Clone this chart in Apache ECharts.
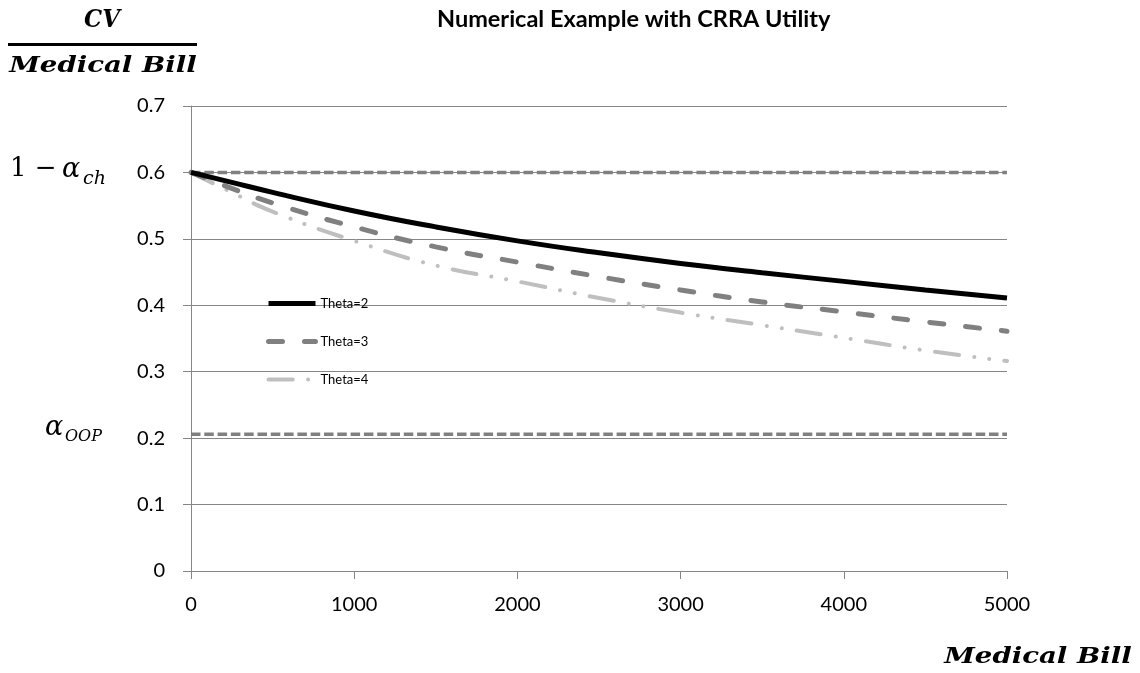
<!DOCTYPE html>
<html>
<head>
<meta charset="utf-8">
<script src="https://cdn.jsdelivr.net/npm/echarts@6/dist/echarts.min.js"></script>
<style>
  html, body { margin: 0; padding: 0; background: #fff; }
  #main { width: 1140px; height: 673px; }
</style>
</head>
<body>
<div id="main"></div>
<script>
// 横轴：医疗账单
var bills = [0, 250, 500, 1000, 1500, 2000, 2500, 3000, 3500, 4000, 4500, 5000];
// CV / Medical Bill
var theta2 = [0.600, 0.585, 0.570, 0.542, 0.518, 0.497, 0.479, 0.463, 0.449, 0.436, 0.423, 0.411];
var theta3 = [0.600, 0.576, 0.554, 0.518, 0.488, 0.465, 0.443, 0.423, 0.405, 0.390, 0.375, 0.361];
var theta4 = [0.600, 0.570, 0.541, 0.497, 0.460, 0.436, 0.411, 0.389, 0.370, 0.351, 0.332, 0.316];
var seriesNames = ['Theta=2', 'Theta=3', 'Theta=4'];
// 参考线 1-alpha_ch 和 alpha_OOP
var refUpper = 0.6;
var refLower = 0.206;
var xTicks = [0, 1000, 2000, 3000, 4000, 5000];
var yTicks = [0, 0.1, 0.2, 0.3, 0.4, 0.5, 0.6, 0.7];

function pairs(xs, ys) {
    var out = [];
    for (var i = 0; i < xs.length; i++) {
        out.push([xs[i], ys[i]]);
    }
    return out;
}

var myChart = echarts.init(document.getElementById('main'));
var axisColor = '#868686';
var mathFont = '"DejaVu Serif", serif';

var option = {
    backgroundColor: '#fff',
    animation: false,
    title: {
        text: 'Numerical Example with CRRA Utility',
        left: 432,
        top: 2,
        textStyle: {
            fontFamily: 'Lato',
            fontWeight: 'bold',
            fontSize: 23.5,
            color: '#000'
        }
    },
    grid: {
        left: 191,
        right: 133,
        top: 106,
        bottom: 102
    },
    legend: {
        orient: 'vertical',
        left: 261,
        top: 292,
        itemWidth: 47,
        itemHeight: 15,
        itemGap: 25,
        data: seriesNames,
        itemStyle: { opacity: 0 },
        lineStyle: { width: 'inherit' },
        textStyle: {
            fontFamily: 'Lato',
            fontSize: 13,
            color: '#000'
        }
    },
    xAxis: {
        type: 'value',
        min: 0,
        max: 5000,
        interval: 1000,
        axisLine: { lineStyle: { color: axisColor, width: 1 } },
        axisTick: { show: true, length: 8, lineStyle: { color: axisColor } },
        splitLine: { show: false },
        axisLabel: {
            margin: 24,
            fontFamily: 'Lato',
            fontSize: 20,
            color: '#000',
            formatter: function (v) {
                return String(v);
            }
        }
    },
    yAxis: {
        type: 'value',
        min: 0,
        max: 0.7,
        interval: 0.1,
        axisLine: { show: true, lineStyle: { color: axisColor, width: 1 } },
        axisTick: { show: true, length: 8, lineStyle: { color: axisColor } },
        splitLine: { show: true, lineStyle: { color: axisColor, width: 1 } },
        axisLabel: {
            margin: 26,
            fontFamily: 'Lato',
            fontSize: 20,
            color: '#000',
            formatter: function (v) {
                return v === 0 ? '0' : v.toFixed(1);
            }
        }
    },
    series: [
        {
            name: 'ref-upper',
            type: 'line',
            symbol: 'none',
            data: [[xTicks[0], refUpper], [xTicks[xTicks.length - 1], refUpper]],
            lineStyle: { color: '#808080', width: 3.5, type: [9.5, 3.8] },
            z: 1
        },
        {
            name: 'ref-lower',
            type: 'line',
            symbol: 'none',
            data: [[xTicks[0], refLower], [xTicks[xTicks.length - 1], refLower]],
            lineStyle: { color: '#808080', width: 3.5, type: [9.5, 3.8] },
            z: 1
        },
        {
            name: seriesNames[2],
            type: 'line',
            symbol: 'none',
            smooth: true,
            data: pairs(bills, theta4),
            itemStyle: { color: '#bfbfbf' },
            lineStyle: { color: '#bfbfbf', width: 4, cap: 'round', type: [24.3, 15.3, 0.01, 15, 0.01, 15.3] },
            z: 2
        },
        {
            name: seriesNames[1],
            type: 'line',
            symbol: 'none',
            smooth: true,
            data: pairs(bills, theta3),
            itemStyle: { color: '#808080' },
            lineStyle: { color: '#808080', width: 5, cap: 'round', type: [14, 22] },
            z: 3
        },
        {
            name: seriesNames[0],
            type: 'line',
            symbol: 'none',
            smooth: true,
            data: pairs(bills, theta2),
            itemStyle: { color: '#000' },
            lineStyle: { color: '#000', width: 5 },
            z: 4
        }
    ],
    graphic: [
        {
            type: 'text', x: 102, y: 21, scaleX: 0.95,
            style: { text: 'CV', font: 'italic bold 24px ' + mathFont, fill: '#000', align: 'center', verticalAlign: 'middle' }
        },
        {
            type: 'rect',
            shape: { x: 8, y: 43, width: 189, height: 3 },
            style: { fill: '#000' }
        },
        {
            type: 'text', x: 103, y: 66, scaleX: 1.2,
            style: { text: 'Medical Bill', font: 'italic bold 23px ' + mathFont, fill: '#000', align: 'center', verticalAlign: 'middle' }
        },
        {
            type: 'text', x: 1038, y: 657, scaleX: 1.2,
            style: { text: 'Medical Bill', font: 'italic bold 23px ' + mathFont, fill: '#000', align: 'center', verticalAlign: 'middle' }
        },
        {
            type: 'text', x: 10, y: 169,
            style: { text: '1 − ', font: '26px ' + mathFont, fill: '#000', align: 'left', verticalAlign: 'middle' }
        },
        {
            type: 'text', x: 62, y: 170,
            style: { text: 'α', font: 'italic 27px ' + mathFont, fill: '#000', align: 'left', verticalAlign: 'middle' }
        },
        {
            type: 'text', x: 83, y: 179,
            style: { text: 'ch', font: 'italic 19px ' + mathFont, fill: '#000', align: 'left', verticalAlign: 'middle' }
        },
        {
            type: 'text', x: 45, y: 428,
            style: { text: 'α', font: 'italic 27px ' + mathFont, fill: '#000', align: 'left', verticalAlign: 'middle' }
        },
        {
            type: 'text', x: 65, y: 437,
            style: { text: 'OOP', font: 'italic 16px ' + mathFont, fill: '#000', align: 'left', verticalAlign: 'middle' }
        }
    ]
};

myChart.setOption(option);
</script>
</body>
</html>
